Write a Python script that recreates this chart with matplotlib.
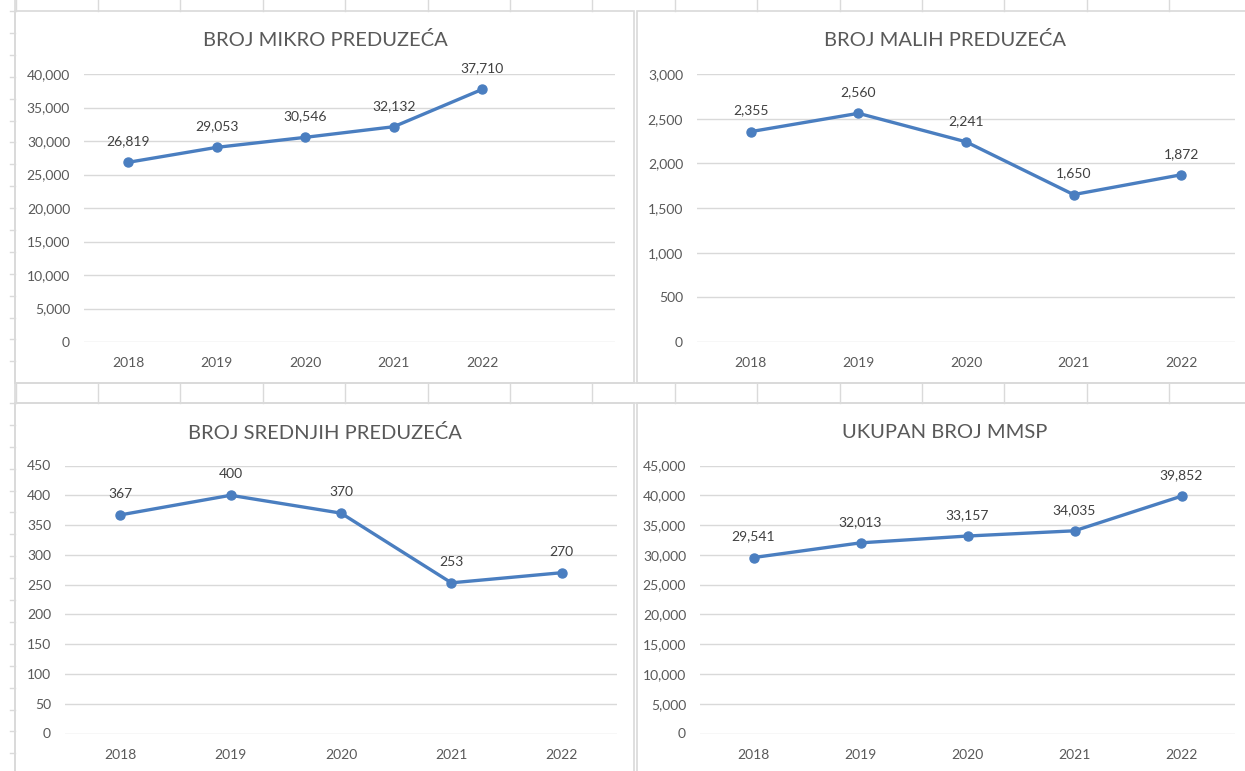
import matplotlib
matplotlib.use('Agg')
import matplotlib.pyplot as plt
from matplotlib.patches import Rectangle
from matplotlib.ticker import FuncFormatter

plt.rcParams['font.family'] = ['Lato', 'DejaVu Sans']

# podaci
godine = ['2018', '2019', '2020', '2021', '2022']
mikro = [26819, 29053, 30546, 32132, 37710]
mala = [2355, 2560, 2241, 1650, 1872]
srednja = [367, 400, 370, 253, 270]
ukupno = [29541, 32013, 33157, 34035, 39852]

naslovi = ['BROJ MIKRO PREDUZEĆA', 'BROJ MALIH PREDUZEĆA',
           'BROJ SREDNJIH PREDUZEĆA', 'UKUPAN BROJ MMSP']

W, H = 1245, 771
PLAVA = '#4a7ec0'
SIVA_TXT = '#595959'
GRID = '#d9d9d9'
CELL = '#dadada'

fig = plt.figure(figsize=(W / 100, H / 100), dpi=100)
fig.patch.set_facecolor('white')

# pozadina - excel tabela
bg = fig.add_axes([0, 0, 1, 1])
bg.set_xlim(0, W)
bg.set_ylim(H, 0)
bg.axis('off')

col_w = 82.4
row_h = 21.9
# rubni markeri kolona i redova
x = 15.6
while x < W:
    bg.plot([x, x], [0, 11], color=CELL, lw=1)
    bg.plot([x, x], [383, 403], color=CELL, lw=1)
    x += col_w
y = 11
while y < 383:
    bg.plot([10, 15], [y, y], color=CELL, lw=1)
    y += row_h
y = 403
while y < H:
    bg.plot([10, 15], [y, y], color=CELL, lw=1)
    y += row_h
bg.plot([15, W], [383, 383], color=CELL, lw=1.2)
bg.plot([15, W], [403, 403], color=CELL, lw=1.2)
bg.plot([15, 15], [0, H], color=CELL, lw=1.2)

# okviri grafikona (x0, y0, x1, y1)
okviri = [(15, 11, 634, 383), (637, 11, W + 2, 383),
          (15, 403, 634, H + 2), (637, 403, W + 2, H + 2)]
for (x0, y0, x1, y1) in okviri:
    bg.add_patch(Rectangle((x0, y0), x1 - x0, y1 - y0, facecolor='white',
                           edgecolor=GRID, lw=1.2))

# plot oblasti u pikselima (x0, y_top, x1, y_nula)
oblasti = [(84, 74, 615, 342), (697, 74, 1235, 342),
           (65, 465.5, 617, 733.5), (700, 465.5, 1235, 733.5)]
naslov_pos = [(325, 40), (945, 40), (325, 433), (945, 433)]
serije = [mikro, mala, srednja, ukupno]
ymax = [40000, 3000, 450, 45000]
korak = [5000, 500, 50, 5000]
n_kat = [6, 5, 5, 5]


def px_axes(x0, y0, x1, y1):
    return fig.add_axes([x0 / W, 1 - y1 / H, (x1 - x0) / W, (y1 - y0) / H])


for i in range(4):
    ax = px_axes(*oblasti[i])
    ax.patch.set_alpha(0)
    vals = serije[i]
    xs = list(range(len(vals)))
    ax.plot(xs, vals, color=PLAVA, lw=2.4, marker='o', markersize=6.5,
            solid_capstyle='round', zorder=3, clip_on=False)
    for xx, v in zip(xs, vals):
        ax.annotate(f'{v:,}', (xx, v), xytext=(0, 21), textcoords='offset pixels',
                    ha='center', va='center', fontsize=10, color='#404040')
    ax.set_xlim(-0.5, n_kat[i] - 0.5)
    ax.set_ylim(0, ymax[i])
    ax.set_xticks(xs)
    ax.set_xticklabels(godine)
    ax.set_yticks(range(0, ymax[i] + 1, korak[i]))
    ax.yaxis.set_major_formatter(FuncFormatter(lambda v, p: f'{int(v):,}'))
    ax.tick_params(axis='both', length=0, labelsize=10, labelcolor=SIVA_TXT)
    ax.tick_params(axis='y', pad=10)
    ax.tick_params(axis='x', pad=11)
    for s in ax.spines.values():
        s.set_visible(False)
    ax.set_axisbelow(True)
    ax.grid(axis='y', color=GRID, lw=1)
    fig.text(naslov_pos[i][0] / W, 1 - naslov_pos[i][1] / H, naslovi[i],
             ha='center', va='center', fontsize=14.5, color=SIVA_TXT)

fig.savefig('out.png', dpi=100)
